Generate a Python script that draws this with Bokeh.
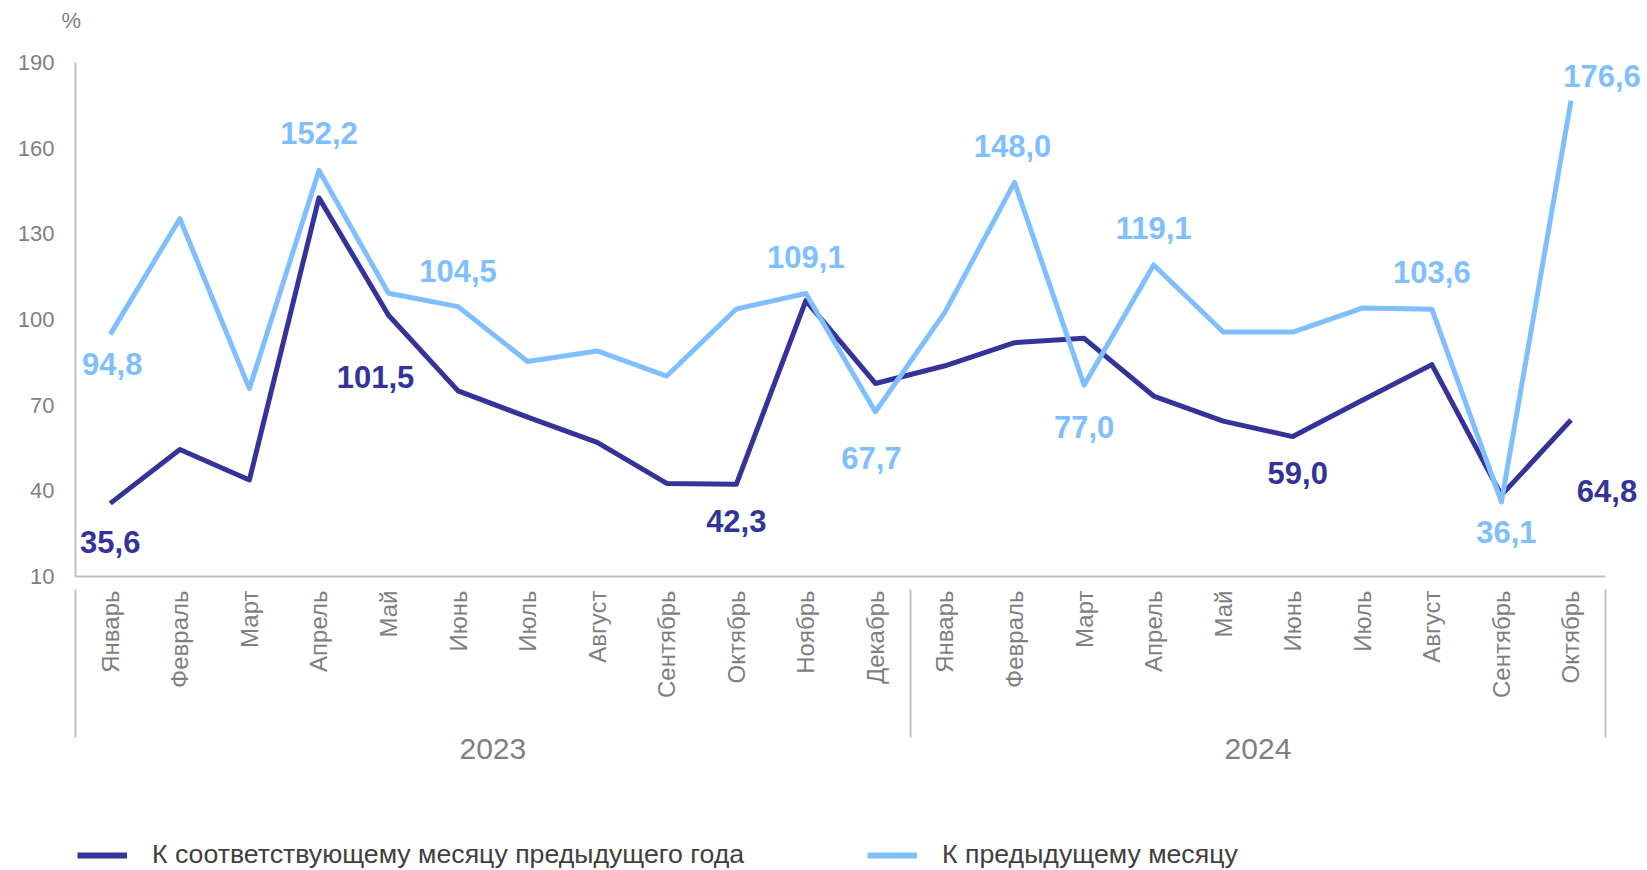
import math
from bokeh.plotting import figure
from bokeh.layouts import column
from bokeh.models import (Range1d, FixedTicker, ColumnDataSource, LabelSet,
                          Legend, LegendItem, LinearAxis)
from bokeh.core.properties import value
from bokeh.embed import file_html
from bokeh.resources import INLINE

# ---------------- data ----------------
years = ["2023"] * 12 + ["2024"] * 10
months = ["Январь", "Февраль", "Март", "Апрель", "Май", "Июнь", "Июль", "Август",
          "Сентябрь", "Октябрь", "Ноябрь", "Декабрь",
          "Январь", "Февраль", "Март", "Апрель", "Май", "Июнь", "Июль", "Август",
          "Сентябрь", "Октябрь"]
yoy = [35.6, 54.5, 43.8, 142.6, 101.5, 75.0, 65.8, 57.0, 42.6, 42.3, 106.6, 77.6,
       83.8, 91.9, 93.4, 73.2, 64.4, 59.0, 71.7, 84.2, 38.5, 64.8]
mom = [94.8, 135.3, 75.8, 152.2, 109.2, 104.5, 85.3, 89.0, 80.2, 103.7, 109.1, 67.7,
       102.6, 148.0, 77.0, 119.1, 95.6, 95.6, 104.0, 103.6, 36.1, 176.6]
y_ticks = [10, 40, 70, 100, 130, 160, 190]
series_names = ["К соответствующему месяцу предыдущего года", "К предыдущему месяцу"]
unit_label = "%"

# which points carry a value label
yoy_labeled = [0, 4, 9, 17, 21]
mom_labeled = [0, 3, 5, 10, 11, 13, 14, 15, 19, 20, 21]

# ---------------- styles ----------------
DARK = "#333399"
LIGHT = "#80BFFF"
GRAY_AX = "#BFBFBF"
GRAY_TX = "#7F7F7F"
FONT = "Liberation Sans"
W = 1647
H_TOP, H_LEG = 45, 60
H_MAIN = 870 - H_TOP - H_LEG

# label offsets in screen px (dx right, dy down)
yoy_off = [(0, 39), (-13, 62), (0, 37), (5, 36), (36, 71)]
mom_off = [(2, 30), (0, -37), (0, -36), (0, -37), (-4, 46), (-2, -36), (0, 42),
           (0, -37), (0, -37), (5, 30), (31, -25)]

# positions derived from the data
idx = list(range(len(months)))
year_names = sorted(set(years), key=years.index)
year_centers, year_bounds = [], [-0.5]
for yn in year_names:
    ids = [i for i, yv in enumerate(years) if yv == yn]
    year_centers.append((ids[0] + ids[-1]) / 2)
    year_bounds.append(ids[-1] + 0.5)

# ---------------- top strip with the unit ----------------
top = figure(width=W, height=H_TOP, x_axis_type=None, y_axis_type=None,
             x_range=Range1d(0, 1), y_range=Range1d(0, 1),
             output_backend="svg", toolbar_location=None, min_border=0)
top.outline_line_color = None
top.grid.visible = False
top.title.text = unit_label
top.title.align = "left"
top.title.vertical_align = "top"
top.title.text_font = FONT
top.title.text_font_style = "normal"
top.title.text_font_size = "22px"
top.title.text_color = GRAY_TX
top.title.offset = -14
top.title.standoff = 14

# ---------------- main chart ----------------
src = ColumnDataSource(dict(x=idx, yoy=yoy, mom=mom))

p = figure(width=W, height=H_MAIN, x_range=Range1d(-0.5, 22.1), y_range=Range1d(10, 190),
           output_backend="svg", toolbar_location=None,
           min_border_left=75, min_border_right=0, min_border_top=62 - H_TOP,
           min_border_bottom=H_MAIN - (576 - H_TOP))
p.outline_line_color = None
p.xgrid.visible = False
p.ygrid.visible = False

r_yoy = p.line("x", "yoy", source=src, line_color=DARK, line_width=5, line_join="round")
r_mom = p.line("x", "mom", source=src, line_color=LIGHT, line_width=5, line_join="round")

# y axis
p.yaxis.ticker = FixedTicker(ticks=y_ticks)
p.yaxis.major_tick_line_color = None
p.yaxis.minor_tick_line_color = None
p.yaxis.axis_line_color = GRAY_AX
p.yaxis.axis_line_width = 2
p.yaxis.major_label_text_color = GRAY_TX
p.yaxis.major_label_text_font = FONT
p.yaxis.major_label_text_font_size = "22px"
p.yaxis.major_label_standoff = 15

# month axis
xa = p.xaxis[0]
xa.ticker = FixedTicker(ticks=idx)
xa.major_label_overrides = {i: m for i, m in zip(idx, months)}
xa.bounds = (year_bounds[0], year_bounds[-1])
xa.major_tick_line_color = None
xa.minor_tick_line_color = None
xa.axis_line_color = GRAY_AX
xa.axis_line_width = 2
xa.major_label_orientation = math.pi / 2
xa.major_label_text_color = GRAY_TX
xa.major_label_text_font = FONT
xa.major_label_text_font_size = "24px"
xa.major_label_standoff = 8

# year axis with group separators
ya = LinearAxis(ticker=FixedTicker(ticks=year_centers, minor_ticks=year_bounds),
                major_label_overrides={c: yn for c, yn in zip(year_centers, year_names)})
ya.axis_line_color = None
ya.major_tick_line_color = None
ya.minor_tick_line_color = GRAY_AX
ya.minor_tick_line_width = 2
ya.minor_tick_in = 112
ya.minor_tick_out = 36
ya.major_label_text_color = GRAY_TX
ya.major_label_text_font = FONT
ya.major_label_text_font_size = "30px"
ya.major_label_standoff = 1
p.add_layout(ya, "below")

# value labels
def fmt(v):
    return f"{v:.1f}".replace(".", ",")

yoy_src = ColumnDataSource(dict(
    x=yoy_labeled, y=[yoy[i] for i in yoy_labeled],
    t=[fmt(yoy[i]) for i in yoy_labeled],
    dx=[o[0] for o in yoy_off], dy=[-o[1] for o in yoy_off]))
mom_src = ColumnDataSource(dict(
    x=mom_labeled, y=[mom[i] for i in mom_labeled],
    t=[fmt(mom[i]) for i in mom_labeled],
    dx=[o[0] for o in mom_off], dy=[-o[1] for o in mom_off]))

for s, c in ((yoy_src, DARK), (mom_src, LIGHT)):
    p.add_layout(LabelSet(x="x", y="y", text="t", x_offset="dx", y_offset="dy",
                          source=s, text_color=c, text_font=value(FONT),
                          text_font_style="bold", text_font_size="31px",
                          text_align="center", text_baseline="middle"))

# ---------------- legend strip ----------------
# the same series are drawn here outside the visible range, only to feed the legend
leg = figure(width=W, height=H_LEG, x_axis_type=None, y_axis_type=None,
             x_range=Range1d(0, 1), y_range=Range1d(-2, -1),
             output_backend="svg", toolbar_location=None, min_border=0)
leg.outline_line_color = None
leg.grid.visible = False
lr_yoy = leg.line("x", "yoy", source=src, line_color=DARK, line_width=6)
lr_mom = leg.line("x", "mom", source=src, line_color=LIGHT, line_width=6)
legend = Legend(items=[LegendItem(label=series_names[0], renderers=[lr_yoy]),
                       LegendItem(label=series_names[1], renderers=[lr_mom])],
                orientation="horizontal", location=(2, 0),
                spacing=123, glyph_width=50, glyph_height=26, label_standoff=25,
                label_height=26, label_text_font=FONT, label_text_font_size="26.7px",
                label_text_color="#404040", border_line_color=None,
                background_fill_alpha=0, padding=0, margin=0)
leg.add_layout(legend, "center")

layout = column(top, p, leg, spacing=0)
open("out.html", "w").write(file_html(layout, INLINE))
